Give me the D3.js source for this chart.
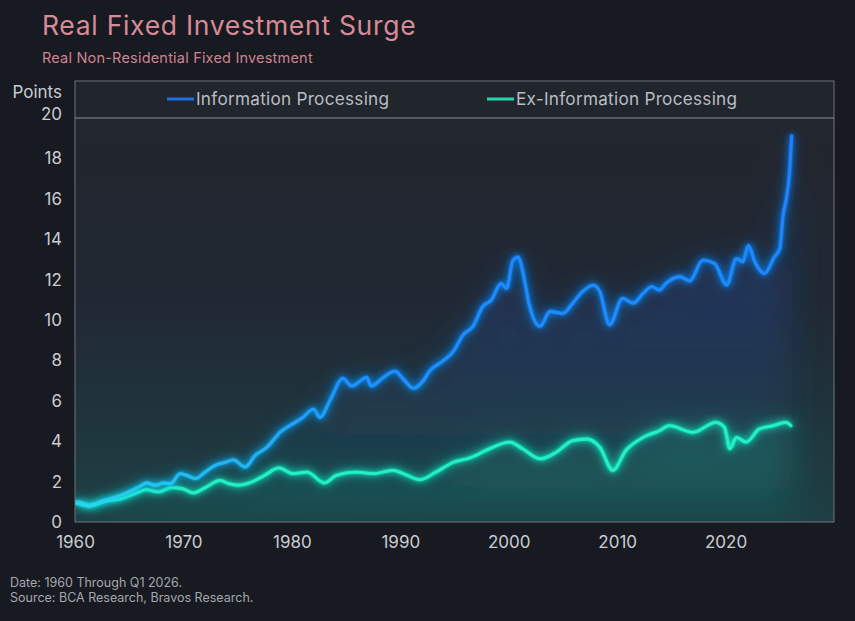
<!DOCTYPE html>
<html>
<head>
<meta charset="utf-8">
<script src="https://cdn.jsdelivr.net/npm/d3@7"></script>
<style>
  html, body { margin: 0; padding: 0; background: #171a20; }
  svg { display: block; font-family: Inter, "Noto Sans", sans-serif; }
</style>
</head>
<body>
<svg id="chart" width="855" height="621"></svg>
<script>
// data (year, index points)
const infoYears = [1960.0, 1960.2, 1961.3, 1962.8, 1964.3, 1965.9, 1966.6, 1967.4, 1968.2, 1968.8, 1969.7, 1970.3, 1971.1, 1972.0, 1972.9, 1973.9, 1974.6, 1975.7, 1976.6, 1977.7, 1978.5, 1978.9, 1979.8, 1981.0, 1982.0, 1982.6, 1983.5, 1984.7, 1985.5, 1986.3, 1986.9, 1987.3, 1988.4, 1989.5, 1990.3, 1991.2, 1992.1, 1992.7, 1993.9, 1994.9, 1995.8, 1996.7, 1997.6, 1998.4, 1999.3, 1999.8, 2000.4, 2000.9, 2001.3, 2001.9, 2002.9, 2003.8, 2005.0, 2005.9, 2006.8, 2007.8, 2008.4, 2009.3, 2010.5, 2011.5, 2012.4, 2013.2, 2013.9, 2014.5, 2015.8, 2016.7, 2017.9, 2019.0, 2020.1, 2021.0, 2021.6, 2022.1, 2022.7, 2023.6, 2024.5, 2025.0, 2025.3, 2025.6, 2025.9, 2026.1];
const infoValues = [1.0, 1.0, 0.84, 1.08, 1.33, 1.73, 1.93, 1.82, 1.93, 1.9, 2.39, 2.31, 2.15, 2.47, 2.8, 2.96, 3.08, 2.72, 3.29, 3.7, 4.19, 4.44, 4.77, 5.17, 5.59, 5.17, 6.0, 7.11, 6.73, 6.98, 7.17, 6.73, 7.14, 7.47, 7.06, 6.62, 6.98, 7.47, 7.96, 8.45, 9.27, 9.68, 10.66, 10.99, 11.81, 11.56, 12.96, 13.12, 12.38, 10.75, 9.68, 10.42, 10.33, 10.83, 11.4, 11.73, 11.4, 9.76, 11.07, 10.83, 11.32, 11.65, 11.48, 11.81, 12.14, 11.93, 12.96, 12.79, 11.73, 13.04, 12.88, 13.69, 12.88, 12.3, 13.12, 13.53, 15.17, 15.99, 17.3, 19.18];

const exYears = [1960.0, 1960.2, 1961.3, 1962.8, 1964.3, 1965.9, 1966.6, 1967.7, 1968.9, 1969.9, 1970.9, 1972.0, 1973.4, 1974.2, 1975.1, 1976.3, 1977.5, 1978.8, 1980.1, 1981.4, 1983.0, 1984.1, 1985.9, 1987.5, 1989.3, 1990.3, 1991.8, 1993.3, 1994.9, 1996.4, 1998.2, 2000.1, 2001.3, 2002.9, 2004.4, 2005.9, 2007.2, 2008.4, 2009.6, 2010.8, 2012.4, 2013.9, 2014.8, 2017.0, 2019.1, 2019.9, 2020.4, 2021.0, 2021.9, 2023.1, 2024.4, 2025.6, 2026.1];
const exValues = [0.95, 0.92, 0.79, 1.03, 1.16, 1.49, 1.6, 1.49, 1.7, 1.65, 1.44, 1.7, 2.06, 1.9, 1.82, 1.98, 2.31, 2.68, 2.39, 2.47, 1.93, 2.31, 2.47, 2.39, 2.56, 2.39, 2.1, 2.47, 2.96, 3.17, 3.62, 3.95, 3.62, 3.13, 3.46, 4.03, 4.11, 3.7, 2.56, 3.54, 4.19, 4.52, 4.77, 4.44, 4.93, 4.68, 3.62, 4.19, 3.95, 4.6, 4.77, 4.93, 4.72];

const xTicks = [1960, 1970, 1980, 1990, 2000, 2010, 2020];
const yTicks = [0, 2, 4, 6, 8, 10, 12, 14, 16, 18, 20];
const seriesNames = ["Information Processing", "Ex-Information Processing"];

const svg = d3.select("#chart");
const plotL = 75, plotR = 834, plotT = 118, plotB = 522, legendT = 81;

const x = d3.scaleLinear().domain([1960, 2030]).range([plotL, plotR]);
const y = d3.scaleLinear().domain([0, 20]).range([plotB, plotT]);

const info = infoYears.map((t, i) => ({t, v: infoValues[i]}));
const ex = exYears.map((t, i) => ({t, v: exValues[i]}));

const defs = svg.append("defs");

// plot background
const bg = defs.append("linearGradient").attr("id", "bg").attr("x1", 0).attr("y1", 0).attr("x2", 0).attr("y2", 1);
bg.append("stop").attr("offset", "0%").attr("stop-color", "#22262d");
bg.append("stop").attr("offset", "45%").attr("stop-color", "#212833");
bg.append("stop").attr("offset", "100%").attr("stop-color", "#1e3f44");

const blueFill = defs.append("linearGradient").attr("id", "blueFill")
  .attr("gradientUnits", "userSpaceOnUse").attr("x1", 0).attr("y1", y(19)).attr("x2", 0).attr("y2", plotB);
blueFill.append("stop").attr("offset", "0%").attr("stop-color", "#1f5fd8").attr("stop-opacity", 0.42);
blueFill.append("stop").attr("offset", "60%").attr("stop-color", "#1d509e").attr("stop-opacity", 0.25);
blueFill.append("stop").attr("offset", "100%").attr("stop-color", "#1c6f80").attr("stop-opacity", 0.05);

const greenFill = defs.append("linearGradient").attr("id", "greenFill")
  .attr("gradientUnits", "userSpaceOnUse").attr("x1", 0).attr("y1", y(5)).attr("x2", 0).attr("y2", plotB);
greenFill.append("stop").attr("offset", "0%").attr("stop-color", "#1fbf9f").attr("stop-opacity", 0.3);
greenFill.append("stop").attr("offset", "100%").attr("stop-color", "#1fb59a").attr("stop-opacity", 0.08);

// blue stroke turns cyan near the bottom
const blueStroke = defs.append("linearGradient").attr("id", "blueStroke")
  .attr("gradientUnits", "userSpaceOnUse").attr("x1", 0).attr("y1", y(0)).attr("x2", 0).attr("y2", y(20));
blueStroke.append("stop").attr("offset", "0%").attr("stop-color", "#28e0ee");
blueStroke.append("stop").attr("offset", "13%").attr("stop-color", "#22b8f5");
blueStroke.append("stop").attr("offset", "35%").attr("stop-color", "#1e90ff");
blueStroke.append("stop").attr("offset", "100%").attr("stop-color", "#1a80ff");

const glow = defs.append("filter").attr("id", "glow")
  .attr("x", "-10%").attr("y", "-10%").attr("width", "120%").attr("height", "120%");
glow.append("feGaussianBlur").attr("in", "SourceGraphic").attr("stdDeviation", 6).attr("result", "b0");
glow.append("feGaussianBlur").attr("in", "SourceGraphic").attr("stdDeviation", 3).attr("result", "b1");
glow.append("feGaussianBlur").attr("in", "SourceGraphic").attr("stdDeviation", 1.2).attr("result", "b2");
const merge = glow.append("feMerge");
merge.append("feMergeNode").attr("in", "b0");
merge.append("feMergeNode").attr("in", "b1");
merge.append("feMergeNode").attr("in", "b2");
merge.append("feMergeNode").attr("in", "SourceGraphic");

const soft = defs.append("filter").attr("id", "soft")
  .attr("x", "-20%").attr("y", "-20%").attr("width", "140%").attr("height", "140%");
soft.append("feGaussianBlur").attr("stdDeviation", 18);

defs.append("clipPath").attr("id", "clip")
  .append("rect").attr("x", plotL).attr("y", plotT).attr("width", plotR - plotL).attr("height", plotB - plotT);

// title block
svg.append("text").attr("x", 42).attr("y", 35).attr("fill", "#d88a99")
  .attr("font-size", 26.5).attr("letter-spacing", 0.7).text("Real Fixed Investment Surge");
svg.append("text").attr("x", 42).attr("y", 63).attr("fill", "#cf8393")
  .attr("font-size", 14.5).attr("letter-spacing", 0.2).text("Real Non-Residential Fixed Investment");

// legend box + plot area
svg.append("rect").attr("x", plotL).attr("y", legendT).attr("width", plotR - plotL).attr("height", plotT - legendT)
  .attr("fill", "#21252c");
svg.append("rect").attr("x", plotL).attr("y", plotT).attr("width", plotR - plotL).attr("height", plotB - plotT)
  .attr("fill", "url(#bg)");

const plot = svg.append("g").attr("clip-path", "url(#clip)");

const area = d3.area().x(d => x(d.t)).y0(plotB).y1(d => y(d.v)).curve(d3.curveMonotoneX);
const line = d3.line().x(d => x(d.t)).y(d => y(d.v)).curve(d3.curveMonotoneX);

plot.append("path").datum(info).attr("d", area).attr("fill", "url(#blueFill)").attr("filter", "url(#soft)");
plot.append("path").datum(ex).attr("d", area).attr("fill", "url(#greenFill)").attr("filter", "url(#soft)");

plot.append("path").datum(ex).attr("d", line)
  .attr("fill", "none").attr("stroke", "#24f0c6").attr("stroke-width", 2.8)
  .attr("stroke-linejoin", "round").attr("filter", "url(#glow)");
plot.append("path").datum(info).attr("d", line)
  .attr("fill", "none").attr("stroke", "url(#blueStroke)").attr("stroke-width", 2.8)
  .attr("stroke-linejoin", "round").attr("filter", "url(#glow)");

// frame
svg.append("rect").attr("x", plotL).attr("y", legendT).attr("width", plotR - plotL).attr("height", plotB - legendT)
  .attr("fill", "none").attr("stroke", "#6f747c").attr("stroke-width", 1);
svg.append("line").attr("x1", plotL).attr("x2", plotR).attr("y1", plotT).attr("y2", plotT)
  .attr("stroke", "#8a8f96").attr("stroke-width", 1.2);

// axes
const xAxis = svg.append("g").attr("transform", `translate(0,${plotB})`)
  .call(d3.axisBottom(x).tickValues(xTicks).tickFormat(d3.format("d")).tickSize(0).tickPadding(14));
const yAxis = svg.append("g").attr("transform", `translate(${plotL},0)`)
  .call(d3.axisLeft(y).tickValues(yTicks).tickSize(0).tickPadding(13));
[xAxis, yAxis].forEach(g => {
  g.select(".domain").remove();
  g.selectAll("text").attr("fill", "#c9ccd1").attr("font-size", 17).attr("font-family", "Inter, sans-serif");
});
yAxis.selectAll(".tick").filter(d => d === 20).select("text").attr("dy", "0.1em");

svg.append("text").attr("x", 62).attr("y", 98).attr("text-anchor", "end")
  .attr("fill", "#c9ccd1").attr("font-size", 17).text("Points");

// legend
const legend = svg.append("g");
const legendItems = [
  {name: seriesNames[0], color: "#1f6fe8", x: 167},
  {name: seriesNames[1], color: "#25d6ad", x: 487}
];
legendItems.forEach(it => {
  legend.append("line").attr("x1", it.x).attr("x2", it.x + 27).attr("y1", 99).attr("y2", 99)
    .attr("stroke", it.color).attr("stroke-width", 3);
  legend.append("text").attr("x", it.x + 29).attr("y", 105).attr("fill", "#b9bcc2")
    .attr("font-size", 17.2).attr("letter-spacing", 0.25).text(it.name);
});

// footer
svg.append("text").attr("x", 10).attr("y", 587).attr("fill", "#a4a7ad")
  .attr("font-size", 12.5).text("Date: 1960 Through Q1 2026.");
svg.append("text").attr("x", 10).attr("y", 602).attr("fill", "#a4a7ad")
  .attr("font-size", 12.5).text("Source: BCA Research, Bravos Research.");
</script>
</body>
</html>
